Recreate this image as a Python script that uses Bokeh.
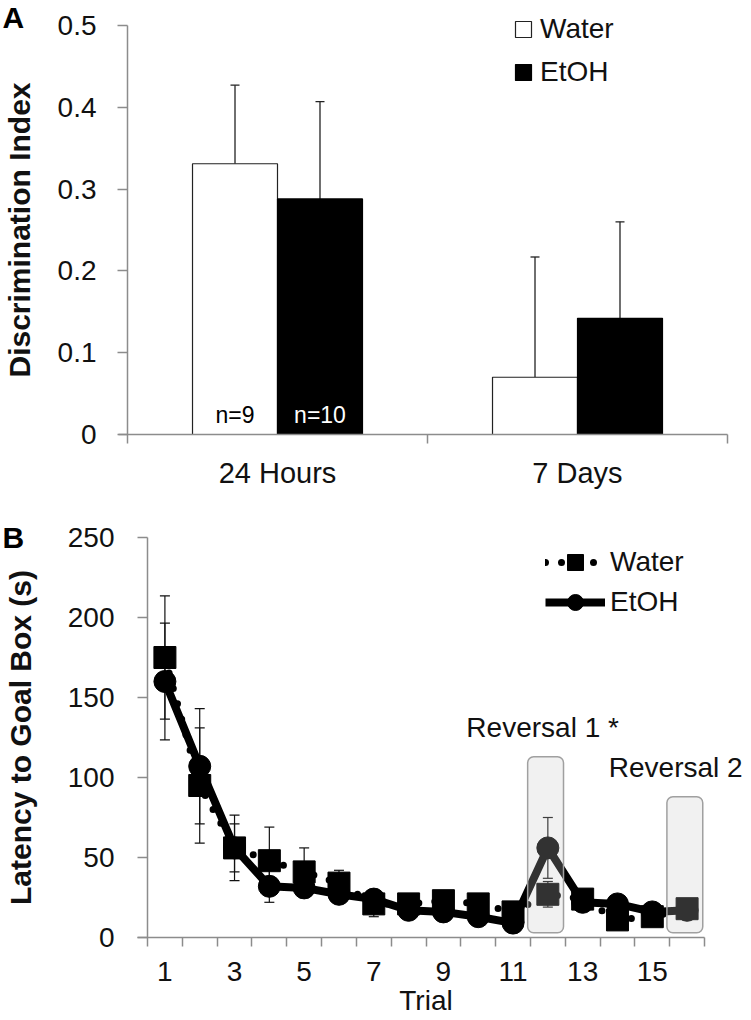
from bokeh.plotting import figure
from bokeh.models import (Range1d, FixedTicker, Whisker, ColumnDataSource, Legend,
                          LegendItem, Label, TeeHead)
from bokeh.embed import file_html
from bokeh.resources import INLINE
from bokeh.core.properties import value

FONT = "Liberation Sans"
AXIS_GRAY = "#8c8c8c"
TEXT_COLOR = "#111111"

# ---------------- Panel A data ----------------
groups_A = ["24 Hours", "7 Days"]
water_di = [0.331, 0.070]
water_di_sem = [0.096, 0.147]
etoh_di = [0.288, 0.142]
etoh_di_sem = [0.119, 0.118]
n_labels_water = ["n=9", ""]
n_labels_etoh = ["n=10", ""]
yticks_A = [0, 0.1, 0.2, 0.3, 0.4, 0.5]
ytick_labels_A = ["0", "0.1", "0.2", "0.3", "0.4", "0.5"]

# ---------------- Panel B data ----------------
trials = list(range(1, 17))
water_lat = [175, 95, 56, 48, 41, 34, 21, 21, 23, 21, 16, 27, 24, 11, 13, 18]
water_sem = [38.5, 36, 20.5, 21, 15, 8, 8, 5, 5, 5, 5, 8, 5, 5, 4, 4]
etoh_lat = [160, 107, 56, 32, 31, 27, 24, 17, 16, 13, 9, 56, 22, 21, 16, 17]
etoh_sem = [36.5, 36, 15, 10, 6, 5, 5, 4, 4, 4, 4, 19, 4, 4, 4, 4]
yticks_B = [0, 50, 100, 150, 200, 250]
xtick_labels_B = ["1", "3", "5", "7", "9", "11", "13", "15"]
reversal_trials = [12, 16]
reversal_tops = [113, 88]
reversal_labels = ["Reversal 1 *", "Reversal 2"]


def style_axes(p):
    for ax in (p.xaxis[0], p.yaxis[0]):
        ax.axis_line_color = AXIS_GRAY
        ax.axis_line_width = 1.5
        ax.major_tick_line_color = AXIS_GRAY
        ax.major_tick_line_width = 1.5
        ax.minor_tick_line_color = AXIS_GRAY
        ax.minor_tick_line_width = 1.5
        ax.major_label_text_font = FONT
        ax.major_label_text_color = TEXT_COLOR
        ax.axis_label_text_font = FONT
        ax.axis_label_text_font_style = "bold"
        ax.axis_label_text_color = TEXT_COLOR
    p.xgrid.visible = False
    p.ygrid.visible = False
    p.outline_line_color = None


def canvas_ranges(W, H, px0, x0, pxs, py0, y0, pys):
    """Ranges so that the frame fills the whole canvas: data x0 sits at pixel px0,
    data y0 at pixel row py0 (from top); pxs / pys are pixels per data unit."""
    xr = Range1d(x0 - px0 / pxs, x0 + (W - px0) / pxs)
    yr = Range1d(y0 - (H - py0) / pys, y0 + py0 / pys)
    return xr, yr


# ================= Panel A =================
WA, HA = 751, 490
PXA, PYA = 300, 818
xrA, yrA = canvas_ranges(WA, HA, 127, 0, PXA, 434, 0, PYA)
pA = figure(width=WA, height=HA, output_backend="svg", toolbar_location=None,
            title=None, x_range=xrA, y_range=yrA,
            min_border_left=0, min_border_right=0, min_border_top=0,
            min_border_bottom=0)
style_axes(pA)

centers_A = [i + 0.5 for i in range(len(groups_A))]
bw = 0.2833
srcA = ColumnDataSource(dict(
    xw=[c - bw / 2 for c in centers_A], xe=[c + bw / 2 for c in centers_A],
    water=water_di, etoh=etoh_di,
    water_up=[m + s for m, s in zip(water_di, water_di_sem)],
    etoh_up=[m + s for m, s in zip(etoh_di, etoh_di_sem)],
    nw=n_labels_water, ne=n_labels_etoh,
    ny=[0.024] * len(groups_A),
))
rw = pA.vbar(x="xw", top="water", width=bw, source=srcA, fill_color="white",
             line_color="#222222", line_width=1.2)
re_ = pA.vbar(x="xe", top="etoh", width=bw, source=srcA, fill_color="black",
              line_color="black", line_width=1.2)
pA.add_layout(Whisker(source=srcA, base="xw", upper="water_up", lower="water",
                      line_color="#222222", line_width=1.3, lower_head=None,
                      upper_head=TeeHead(size=9, line_color="#222222", line_width=1.3)))
pA.add_layout(Whisker(source=srcA, base="xe", upper="etoh_up", lower="etoh",
                      line_color="#222222", line_width=1.3, lower_head=None,
                      upper_head=TeeHead(size=9, line_color="#222222", line_width=1.3)))
pA.text(x="xw", y="ny", text="nw", source=srcA, text_font=value(FONT),
        text_font_size="23px", text_align="center", text_baseline="middle",
        text_color="black")
pA.text(x="xe", y="ny", text="ne", source=srcA, text_font=value(FONT),
        text_font_size="23px", text_align="center", text_baseline="middle",
        text_color="white")

pA.yaxis.fixed_location = 0
pA.yaxis.bounds = (yticks_A[0], yticks_A[-1])
pA.yaxis.ticker = FixedTicker(ticks=yticks_A)
pA.yaxis.major_label_overrides = {t: l for t, l in zip(yticks_A, ytick_labels_A)}
pA.yaxis.major_label_text_font_size = "28px"
pA.yaxis.major_tick_out = 10
pA.yaxis.major_tick_in = 0
pA.yaxis.minor_tick_out = 0
pA.yaxis.minor_tick_in = 0
pA.yaxis.major_label_standoff = 21
pA.yaxis.axis_label = "Discrimination Index"
pA.yaxis.axis_label_text_font_size = "30px"
pA.yaxis.axis_label_standoff = 19

pA.xaxis.fixed_location = 0
pA.xaxis.bounds = (-9 / PXA, len(groups_A))
pA.xaxis.ticker = FixedTicker(ticks=centers_A,
                              minor_ticks=list(range(len(groups_A) + 1)))
pA.xaxis.major_label_overrides = {c: g for c, g in zip(centers_A, groups_A)}
pA.xaxis.major_label_text_font_size = "29px"
pA.xaxis.major_tick_out = 0
pA.xaxis.major_tick_in = 0
pA.xaxis.minor_tick_out = 9
pA.xaxis.minor_tick_in = 0
pA.xaxis.major_label_standoff = 13

legA = Legend(items=[LegendItem(label="Water", renderers=[rw]),
                     LegendItem(label="EtOH", renderers=[re_])],
              location=(513, 402), glyph_width=20, glyph_height=20,
              label_standoff=7, spacing=11, padding=0, margin=0,
              border_line_color=None, background_fill_alpha=0,
              label_text_font=FONT, label_text_font_size="28px",
              label_text_color=TEXT_COLOR, label_height=32)
pA.add_layout(legA, "center")

pA.add_layout(Label(x=-125 / PXA, y=417 / PYA, text="A", text_color="black",
                    text_font=FONT, text_font_style="bold", text_font_size="30px",
                    text_baseline="alphabetic"))

# ================= Panel B =================
WB, HB = 751, 528
PXB, PYB = 557 / 16, 1.6
xrB, yrB = canvas_ranges(WB, HB, 147, 0.5, PXB, 447, 0, PYB)
pB = figure(width=WB, height=HB, output_backend="svg", toolbar_location=None,
            title=None, x_range=xrB, y_range=yrB,
            min_border_left=0, min_border_right=0, min_border_top=0,
            min_border_bottom=0)
style_axes(pB)

srcB = ColumnDataSource(dict(
    t=trials, water=water_lat, etoh=etoh_lat,
    wlo=[m - s for m, s in zip(water_lat, water_sem)],
    whi=[m + s for m, s in zip(water_lat, water_sem)],
    elo=[m - s for m, s in zip(etoh_lat, etoh_sem)],
    ehi=[m + s for m, s in zip(etoh_lat, etoh_sem)],
))

wl = pB.line("t", "water", source=srcB, line_color="black", line_width=7,
             line_dash="0 16", line_cap="round")
ws = pB.scatter("t", "water", source=srcB, marker="square", size=22,
                fill_color="black", line_color="black")
el = pB.line("t", "etoh", source=srcB, line_color="black", line_width=8,
             line_join="round")
es = pB.scatter("t", "etoh", source=srcB, marker="circle", size=22,
                fill_color="black", line_color="black")
for lo, hi in (("wlo", "whi"), ("elo", "ehi")):
    pB.add_layout(Whisker(source=srcB, base="t", lower=lo, upper=hi,
                          line_color="#111111", line_width=1.2,
                          upper_head=TeeHead(size=10, line_color="#111111", line_width=1.2),
                          lower_head=TeeHead(size=10, line_color="#111111", line_width=1.2)))

rsrc = ColumnDataSource(dict(
    left=[t - 0.58 for t in reversal_trials], right=[t + 0.45 for t in reversal_trials],
    bottom=[3] * len(reversal_trials), top=reversal_tops,
))
pB.quad(left="left", right="right", bottom="bottom", top="top", source=rsrc,
        fill_color="#c8c8c8", fill_alpha=0.25, line_color="#a0a0a0",
        line_width=1.5, border_radius=6)

pB.add_layout(Label(x=reversal_trials[0] - 0.15, y=131, text=reversal_labels[0],
                    text_font=FONT, text_font_size="28px", text_align="center",
                    text_color=TEXT_COLOR, text_baseline="alphabetic"))
pB.add_layout(Label(x=reversal_trials[1] - 2.25, y=106.5, text=reversal_labels[1],
                    text_font=FONT, text_font_size="28px", text_align="left",
                    text_color=TEXT_COLOR, text_baseline="alphabetic"))

odd_trials = [t for t in trials if t % 2 == 1]
pB.xaxis.fixed_location = 0
pB.xaxis.bounds = (trials[0] - 0.5 - 10 / PXB, trials[-1] + 0.5)
pB.xaxis.ticker = FixedTicker(ticks=odd_trials,
                              minor_ticks=[t - 0.5 for t in trials] + [trials[-1] + 0.5])
pB.xaxis.major_label_overrides = {t: l for t, l in zip(odd_trials, xtick_labels_B)}
pB.xaxis.major_label_text_font_size = "28px"
pB.xaxis.major_tick_out = 0
pB.xaxis.major_tick_in = 0
pB.xaxis.minor_tick_out = 9
pB.xaxis.minor_tick_in = 0
pB.xaxis.major_label_standoff = 15

pB.yaxis.fixed_location = trials[0] - 0.5
pB.yaxis.bounds = (yticks_B[0], yticks_B[-1])
pB.yaxis.ticker = FixedTicker(ticks=yticks_B)
pB.yaxis.major_label_text_font_size = "28px"
pB.yaxis.major_tick_out = 10
pB.yaxis.major_tick_in = 0
pB.yaxis.minor_tick_out = 0
pB.yaxis.minor_tick_in = 0
pB.yaxis.major_label_standoff = 23
pB.yaxis.axis_label = "Latency to Goal Box (s)"
pB.yaxis.axis_label_text_font_size = "30px"
pB.yaxis.axis_label_standoff = 28

pB.add_layout(Label(x=8.5, y=-39.5, text="Trial", text_font=FONT,
                    text_font_size="28px", text_align="center",
                    text_color=TEXT_COLOR, text_baseline="alphabetic"))

legB = Legend(items=[LegendItem(label="Water", renderers=[wl, ws]),
                     LegendItem(label="EtOH", renderers=[el, es])],
              location=(545, 396), glyph_width=60, glyph_height=40,
              label_standoff=5, spacing=0, padding=0, margin=0,
              border_line_color=None, background_fill_alpha=0,
              label_text_font=FONT, label_text_font_size="28px",
              label_text_color=TEXT_COLOR)
pB.add_layout(legB, "center")

pB.add_layout(Label(x=0.5 - 145 / PXB, y=250, text="B", text_color="black",
                    text_font=FONT, text_font_style="bold", text_font_size="30px",
                    text_baseline="alphabetic"))

open("out.html", "w").write(file_html([pA, pB], INLINE))
